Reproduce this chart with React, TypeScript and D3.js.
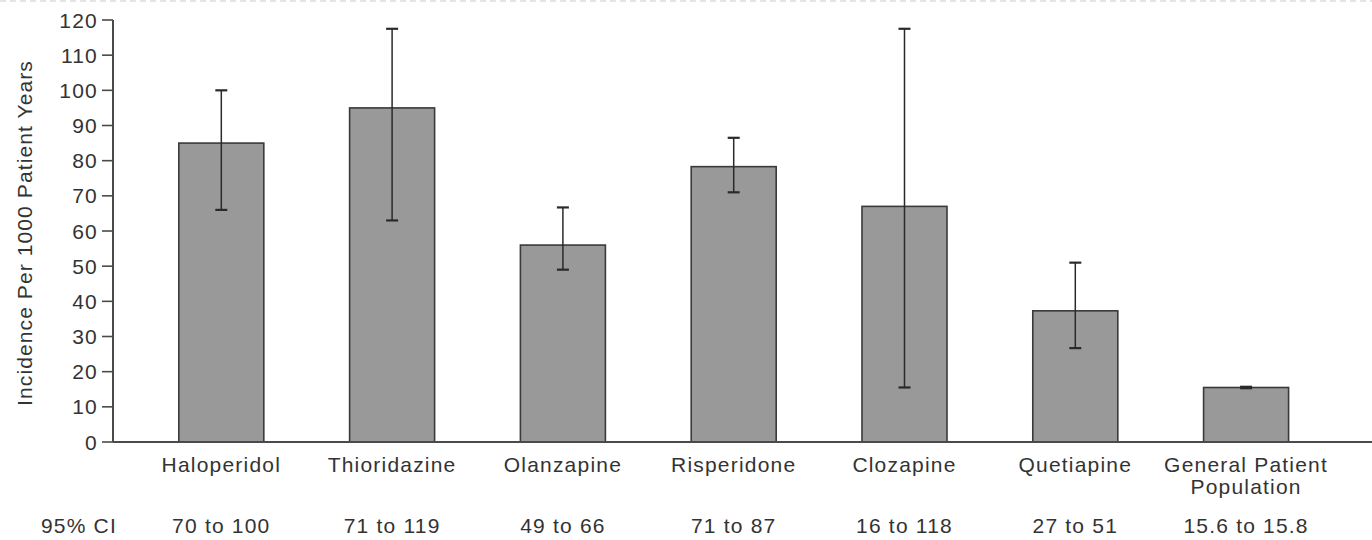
import React from "react";
import * as d3 from "d3";

const categories = ["Haloperidol", "Thioridazine", "Olanzapine", "Risperidone", "Clozapine", "Quetiapine", "General Patient Population"];
const categoryLines = [["Haloperidol"], ["Thioridazine"], ["Olanzapine"], ["Risperidone"], ["Clozapine"], ["Quetiapine"], ["General Patient", "Population"]];
const incidence = [85, 95, 56, 78.3, 67, 37.3, 15.5];
const ciLow = [66, 63, 49, 71, 15.5, 26.7, 15.3];
const ciHigh = [100, 117.5, 66.7, 86.5, 117.5, 51, 15.7];
const ciLabels = ["70 to 100", "71 to 119", "49 to 66", "71 to 87", "16 to 118", "27 to 51", "15.6 to 15.8"];
const yTicks = [0, 10, 20, 30, 40, 50, 60, 70, 80, 90, 100, 110, 120];
const yTitle = "Incidence Per 1000 Patient Years";
const ciRowTitle = "95% CI";

const W = 1372;
const H = 540;
const FONT = "'Liberation Sans', Arial, Helvetica, sans-serif";
const FS = 21;
const LS = 1.2;

export default function App() {
  const x = d3.scaleBand<string>().domain(categories).range([135.9, 1331.5]).paddingInner(0.5023).paddingOuter(0.2512);
  const y = d3.scaleLinear().domain([0, 120]).range([442, 20]);
  const axisX = 113;
  const bw = x.bandwidth();
  const capHalf = 6;

  return (
    <svg width={W} height={H} style={{ position: "absolute", left: 0, top: 0, background: "#fff" }} fontFamily={FONT}>
      <rect x={0} y={0} width={W} height={H} fill="#fff" />
      <line x1={0} x2={W} y1={1} y2={1} stroke="#e4e4e4" strokeWidth={2} strokeDasharray="6 4" />
      {/* bars */}
      {categories.map((c, i) => (
        <rect key={c} x={x(c)!} y={y(incidence[i])} width={bw} height={y(0) - y(incidence[i])}
          fill="#999999" stroke="#3a3a3a" strokeWidth={1.6} />
      ))}
      {/* error bars */}
      {categories.map((c, i) => {
        const cx = x(c)! + bw / 2;
        return (
          <g key={"e" + c} stroke="#2a2a2a">
            <line x1={cx} x2={cx} y1={y(ciLow[i])} y2={y(ciHigh[i])} strokeWidth={1.5} />
            <line x1={cx - capHalf} x2={cx + capHalf} y1={y(ciHigh[i])} y2={y(ciHigh[i])} strokeWidth={2.2} />
            <line x1={cx - capHalf} x2={cx + capHalf} y1={y(ciLow[i])} y2={y(ciLow[i])} strokeWidth={2.2} />
          </g>
        );
      })}
      {/* axes */}
      <line x1={axisX} x2={axisX} y1={y(120)} y2={y(0)} stroke="#4a4a4a" strokeWidth={2} />
      <line x1={axisX} x2={W} y1={y(0)} y2={y(0)} stroke="#4a4a4a" strokeWidth={2} />
      {yTicks.map((t) => (
        <g key={t}>
          <line x1={102} x2={axisX} y1={y(t)} y2={y(t)} stroke="#4a4a4a" strokeWidth={1.6} />
          <text x={98} y={y(t)} dy="0.36em" textAnchor="end" fontSize={FS} letterSpacing={LS} fill="#333">{t}</text>
        </g>
      ))}
      <text transform={`translate(32,${233}) rotate(-90)`} textAnchor="middle" fontSize={FS} letterSpacing={1.1} fill="#333">{yTitle}</text>
      {/* category labels */}
      {categories.map((c, i) => (
        <text key={"l" + c} x={x(c)! + bw / 2} y={472} textAnchor="middle" fontSize={FS} letterSpacing={LS} fill="#333">
          {categoryLines[i].map((ln, k) => (
            <tspan key={k} x={x(c)! + bw / 2} dy={k === 0 ? 0 : 22}>{ln}</tspan>
          ))}
        </text>
      ))}
      {/* CI row */}
      <text x={79} y={533} textAnchor="middle" fontSize={FS} letterSpacing={LS} fill="#333">{ciRowTitle}</text>
      {categories.map((c, i) => (
        <text key={"ci" + c} x={x(c)! + bw / 2} y={533} textAnchor="middle" fontSize={FS} letterSpacing={LS} fill="#333">{ciLabels[i]}</text>
      ))}
    </svg>
  );
}
